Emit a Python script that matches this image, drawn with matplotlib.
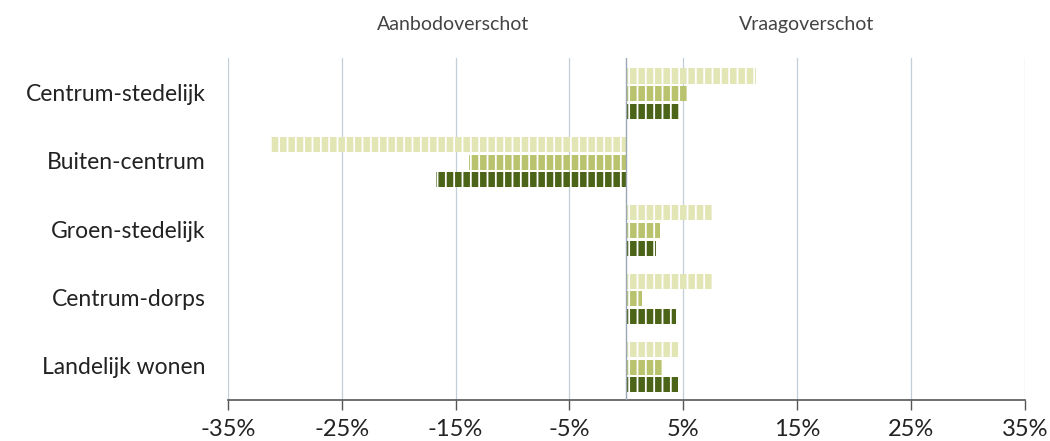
import numpy as np
import matplotlib
matplotlib.use('Agg')
import matplotlib.pyplot as plt

# woonmilieus en overschot per reeks (in %)
milieus = ['Centrum-stedelijk', 'Buiten-centrum', 'Groen-stedelijk', 'Centrum-dorps', 'Landelijk wonen']
reeks_1 = [11.4, -31.3, 7.5, 7.5, 4.5]
reeks_2 = [5.3, -13.8, 3.0, 1.4, 3.1]
reeks_3 = [4.7, -16.7, 2.6, 4.4, 4.5]
kleuren = ['#e2e5b4', '#b9c36e', '#4b6417']
ticks = [-35, -25, -15, -5, 5, 15, 25, 35]

plt.rcParams['font.family'] = ['Lato', 'DejaVu Sans']
plt.rcParams['hatch.color'] = 'white'
plt.rcParams['hatch.linewidth'] = 1.3

fig = plt.figure(figsize=(10.5, 4.41), dpi=100)
ax = fig.add_axes([0.217, 0.093, 0.759, 0.775])

y = np.arange(len(milieus))
h = 0.22
for i, (vals, kl) in enumerate(zip([reeks_1, reeks_2, reeks_3], kleuren)):
    ax.barh(y - h + i * (h + 0.04) - 0.02, vals, height=h, color=kl,
            hatch='||', linewidth=0, zorder=3)

ax.set_xlim(-35, 35)
ax.set_ylim(len(milieus) - 0.5, -0.5)
ax.set_xticks(ticks)
ax.set_xticklabels([f'{t}%' for t in ticks], fontsize=17, color='#222222')
ax.set_yticks(y)
ax.set_yticklabels(milieus, fontsize=16.5, color='#222222')
ax.tick_params(axis='y', length=0, pad=16)
ax.tick_params(axis='x', length=7, width=1, color='#555555', pad=7, direction='out')

for t in ticks:
    ax.axvline(t, color='#c3cedb', linewidth=0.9, zorder=1)
ax.axvline(0, color='#9aa6b4', linewidth=1, zorder=4)

for s in ['top', 'right', 'left']:
    ax.spines[s].set_visible(False)
ax.spines['bottom'].set_color('#555555')
ax.spines['bottom'].set_linewidth(1.2)

ax.text(-15.2, -1.0, 'Aanbodoverschot', ha='center', va='center', fontsize=14, color='#444444')
ax.text(15.8, -1.0, 'Vraagoverschot', ha='center', va='center', fontsize=14, color='#444444')

fig.savefig('out.png', dpi=100, facecolor='white')
